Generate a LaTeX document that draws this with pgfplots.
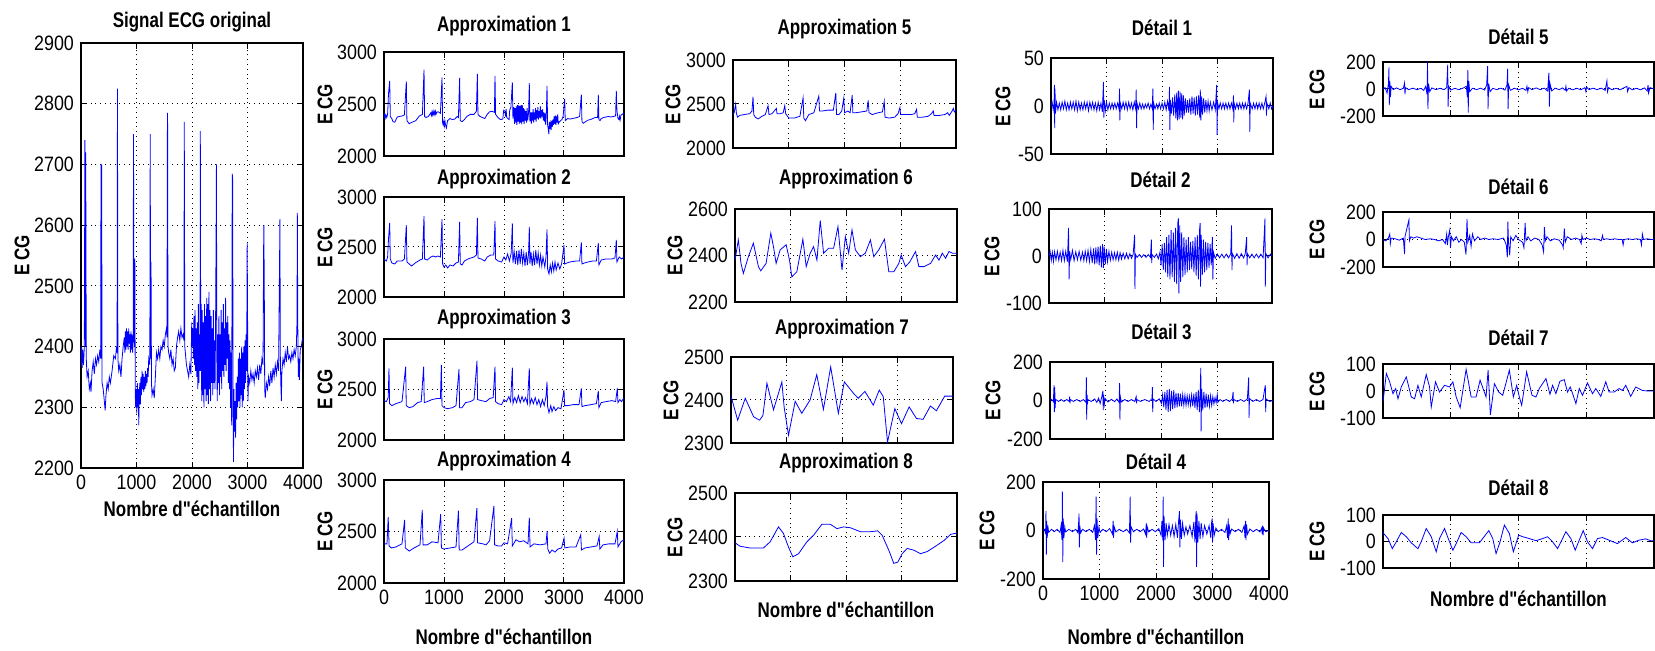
\documentclass[border=0pt]{standalone}
\usepackage{fontspec}
\setmainfont{Liberation Sans}[FakeStretch=0.80, Ligatures=TeXOff]
\newfontfamily\tickfont{Liberation Sans}[FakeStretch=0.86, Ligatures=TeXOff]
\usepackage{pgfplots}
\pgfplotsset{compat=1.18}
\newcommand\ttl{\bfseries\fontsize{10.6}{12}\selectfont}
\newcommand\nde{Nombre d"échantillon}
\pgfplotsset{
  /pgf/number format/1000 sep={},
  /pgf/number format/assume math mode=true,
  ecg/.style={scale only axis, anchor=south west,
    xmin=0, xmax=4000, xtick={0,1000,2000,3000,4000}, xticklabels={},
    scaled ticks=false, grid=major,
    grid style={black, dotted, line width=0.5pt},
    axis line style={line width=0.65pt},
    tick style={black, line width=0.5pt}, major tick length=3pt, tick align=inside,
    tick label style={font=\tickfont\fontsize{10.4}{11}\selectfont},
    title style={font=\ttl, at={(0.5,1)}, anchor=base},
    ylabel={E\,CG}, ylabel style={font=\ttl, anchor=center},
    xlabel style={font=\ttl, anchor=base},
    no markers,
    cycle list={{blue, mark=none, line width=0.75pt, line join=round}},
  },
  yl/.style={ylabel style={at={([xshift=-#1]axis description cs:0,0.5)}}},
  xl/.style={xlabel={\nde}, xlabel style={at={([yshift=-#1]axis description cs:0.5,0)}}},
  tt/.style 2 args={title={#1}, title style={yshift=#2-6pt}},
  xnum/.style={xticklabels={0,1000,2000,3000,4000}},
}
\begin{document}
\begin{tikzpicture}
\useasboundingbox (0,0) rectangle (827.5pt,325.5pt);
% ---------- Original signal
\begin{axis}[ecg, at={(40.5pt,91.5pt)}, width=111pt, height=212.5pt,
  ymin=2200, ymax=2900, ytick={2200,2300,...,2900}, xnum,
  tt={Signal ECG original}{8pt}, yl=29.5pt, xl=24.5pt]
\addplot coordinates {(0,2370)(10,2400)(20,2365)(30,2395)(45,2370)(60,2400)(70,2740)(80,2400)(85,2720)(95,2380)(110,2350)(130,2360)(150,2330)(170,2340)(180,2325)(200,2360)(220,2375)(240,2355)(260,2380)(280,2370)(300,2385)(320,2375)(340,2395)(355,2380)(360,2700)(368,2380)(372,2700)(380,2340)(400,2330)(420,2310)(435,2295)(450,2320)(470,2340)(490,2330)(510,2350)(530,2340)(560,2360)(590,2385)(620,2380)(640,2400)(650,2390)(657,2825)(665,2380)(680,2360)(700,2370)(720,2350)(740,2380)(760,2400)(780,2415)(790,2390)(800,2425)(810,2395)(820,2430)(830,2400)(840,2425)(850,2395)(860,2430)(870,2405)(880,2420)(890,2390)(900,2425)(910,2395)(920,2420)(930,2390)(940,2410)(946,2750)(955,2420)(965,2400)(970,2545)(978,2320)(985,2300)(995,2330)(1005,2290)(1015,2340)(1025,2300)(1035,2330)(1040,2270)(1050,2320)(1060,2340)(1070,2305)(1080,2350)(1090,2320)(1100,2360)(1110,2330)(1120,2355)(1130,2325)(1140,2350)(1150,2330)(1160,2360)(1170,2335)(1180,2355)(1190,2340)(1200,2365)(1210,2350)(1220,2380)(1240,2370)(1247,2750)(1255,2380)(1262,2540)(1270,2340)(1280,2320)(1300,2330)(1320,2315)(1340,2350)(1360,2390)(1380,2380)(1400,2395)(1420,2380)(1440,2400)(1460,2395)(1480,2410)(1500,2400)(1520,2420)(1540,2430)(1550,2415)(1555,2740)(1560,2785)(1568,2400)(1580,2390)(1600,2380)(1620,2395)(1640,2370)(1660,2380)(1680,2360)(1700,2365)(1720,2400)(1740,2415)(1760,2425)(1780,2410)(1800,2430)(1820,2415)(1840,2420)(1855,2410)(1861,2770)(1870,2400)(1880,2390)(1900,2370)(1920,2360)(1940,2350)(1960,2370)(1980,2355)(1995,2440)(2005,2400)(2015,2430)(2025,2380)(2035,2450)(2045,2370)(2055,2460)(2065,2360)(2075,2430)(2085,2350)(2095,2440)(2105,2330)(2115,2470)(2125,2340)(2135,2420)(2145,2360)(2150,2755)(2158,2360)(2165,2470)(2175,2310)(2185,2460)(2195,2320)(2205,2440)(2215,2300)(2225,2470)(2235,2330)(2245,2450)(2255,2310)(2265,2480)(2275,2320)(2285,2470)(2295,2305)(2305,2490)(2315,2330)(2325,2460)(2335,2310)(2345,2450)(2355,2340)(2365,2430)(2375,2320)(2385,2460)(2395,2340)(2405,2410)(2415,2330)(2425,2440)(2435,2600)(2440,2700)(2448,2380)(2455,2310)(2465,2420)(2475,2340)(2485,2450)(2495,2320)(2505,2420)(2515,2350)(2525,2460)(2535,2330)(2545,2440)(2555,2360)(2565,2470)(2575,2350)(2585,2430)(2595,2370)(2605,2480)(2615,2360)(2625,2440)(2635,2380)(2645,2450)(2655,2340)(2665,2420)(2675,2330)(2685,2410)(2695,2300)(2705,2390)(2715,2270)(2725,2685)(2733,2675)(2740,2300)(2748,2210)(2755,2330)(2765,2260)(2775,2310)(2785,2250)(2795,2340)(2805,2280)(2815,2350)(2825,2300)(2835,2380)(2845,2310)(2855,2390)(2865,2300)(2875,2380)(2885,2320)(2895,2400)(2905,2300)(2915,2390)(2925,2310)(2935,2400)(2945,2330)(2955,2410)(2965,2340)(2975,2420)(2985,2360)(2994,2570)(3000,2480)(3008,2310)(3020,2350)(3040,2340)(3060,2360)(3080,2345)(3100,2355)(3120,2340)(3140,2360)(3160,2350)(3180,2365)(3200,2345)(3220,2370)(3240,2355)(3260,2380)(3280,2370)(3290,2560)(3295,2600)(3303,2490)(3310,2330)(3320,2315)(3340,2340)(3360,2330)(3380,2350)(3400,2335)(3420,2360)(3440,2340)(3460,2365)(3480,2350)(3500,2370)(3520,2355)(3540,2375)(3560,2360)(3578,2545)(3584,2610)(3592,2380)(3600,2340)(3610,2310)(3620,2360)(3640,2380)(3660,2370)(3680,2390)(3700,2375)(3720,2400)(3740,2380)(3760,2385)(3780,2375)(3800,2390)(3820,2380)(3840,2395)(3860,2385)(3880,2400)(3892,2440)(3898,2620)(3906,2440)(3915,2350)(3925,2380)(3935,2345)(3950,2395)(3970,2400)(3985,2410)(4000,2415)};
\end{axis}
% ---------- Approximation 1
\begin{axis}[ecg, at={(192pt,247.5pt)}, width=120pt, height=52pt,
  ymin=2000, ymax=3000, ytick={2000,2500,3000}, tt={Approximation 1}{10pt}, yl=29.5pt]
\addplot coordinates {(0,2370)(10,2400)(20,2365)(30,2395)(45,2370)(60,2400)(75,2600)(95,2723)(105,2380)(130,2360)(150,2330)(180,2325)(220,2375)(260,2380)(300,2385)(340,2395)(372,2717)(382,2340)(420,2310)(450,2320)(490,2330)(530,2340)(590,2385)(640,2400)(667,2830)(677,2380)(700,2370)(740,2380)(780,2415)(790,2390)(800,2425)(810,2395)(820,2430)(830,2400)(840,2425)(850,2395)(860,2430)(870,2405)(880,2420)(900,2425)(920,2420)(940,2410)(967,2755)(977,2320)(985,2300)(995,2330)(1005,2290)(1015,2340)(1025,2300)(1040,2270)(1060,2340)(1080,2350)(1100,2360)(1140,2350)(1180,2355)(1220,2380)(1240,2370)(1261,2750)(1271,2340)(1300,2330)(1340,2350)(1380,2380)(1440,2400)(1500,2400)(1540,2430)(1556,2790)(1566,2400)(1600,2380)(1640,2370)(1680,2360)(1720,2400)(1760,2425)(1800,2430)(1840,2420)(1850,2770)(1860,2400)(1900,2370)(1940,2350)(1980,2355)(1995,2440)(2015,2430)(2025,2380)(2035,2450)(2045,2370)(2065,2360)(2085,2350)(2095,2440)(2115,2470)(2139,2707)(2149,2360)(2165,2470)(2175,2310)(2185,2460)(2195,2320)(2205,2480)(2215,2300)(2225,2490)(2235,2330)(2245,2490)(2255,2310)(2265,2480)(2275,2320)(2285,2490)(2295,2305)(2305,2490)(2315,2330)(2325,2460)(2335,2310)(2345,2450)(2355,2340)(2365,2430)(2375,2320)(2385,2460)(2395,2340)(2410,2420)(2422,2700)(2432,2330)(2445,2420)(2455,2310)(2465,2420)(2475,2340)(2485,2450)(2495,2320)(2505,2420)(2515,2350)(2525,2460)(2535,2330)(2545,2440)(2555,2360)(2565,2470)(2575,2350)(2585,2430)(2595,2370)(2605,2480)(2615,2360)(2625,2440)(2635,2380)(2645,2450)(2655,2340)(2665,2420)(2675,2330)(2685,2410)(2695,2300)(2705,2390)(2717,2675)(2727,2300)(2740,2250)(2748,2210)(2755,2330)(2765,2260)(2775,2310)(2785,2250)(2795,2340)(2805,2280)(2815,2350)(2825,2300)(2835,2380)(2845,2310)(2855,2390)(2865,2300)(2875,2380)(2885,2320)(2895,2400)(2905,2310)(2925,2330)(2945,2340)(2965,2350)(2985,2380)(3011,2550)(3021,2340)(3060,2360)(3100,2355)(3140,2360)(3180,2365)(3220,2370)(3260,2380)(3289,2590)(3299,2330)(3320,2315)(3360,2330)(3400,2345)(3440,2350)(3480,2360)(3520,2370)(3560,2370)(3572,2590)(3582,2350)(3600,2340)(3620,2360)(3660,2370)(3700,2375)(3740,2380)(3780,2375)(3820,2380)(3860,2385)(3872,2627)(3882,2440)(3900,2360)(3915,2350)(3925,2380)(3935,2345)(3950,2395)(3970,2400)(4000,2415)};
\end{axis}
% ---------- Approximation 2
\begin{axis}[ecg, at={(192pt,177pt)}, width=120pt, height=50pt,
  ymin=2000, ymax=3000, ytick={2000,2500,3000}, tt={Approximation 2}{6pt}, yl=29.5pt]
\addplot coordinates {(0,2380)(40,2360)(60,2400)(75,2580)(95,2742)(105,2380)(130,2340)(180,2330)(220,2360)(300,2360)(340,2380)(372,2718)(382,2350)(420,2330)(460,2310)(520,2340)(600,2370)(640,2380)(667,2811)(677,2380)(720,2370)(780,2400)(820,2410)(860,2400)(900,2410)(940,2400)(967,2778)(977,2330)(1000,2300)(1030,2320)(1060,2290)(1100,2320)(1150,2310)(1200,2340)(1240,2350)(1261,2752)(1271,2330)(1300,2320)(1340,2360)(1400,2380)(1450,2390)(1500,2400)(1540,2420)(1556,2790)(1566,2390)(1620,2380)(1680,2360)(1720,2400)(1780,2420)(1830,2420)(1850,2758)(1860,2380)(1900,2360)(1960,2350)(2000,2400)(2030,2370)(2060,2430)(2090,2360)(2120,2440)(2139,2735)(2149,2340)(2170,2450)(2190,2330)(2210,2460)(2230,2320)(2250,2470)(2270,2330)(2290,2480)(2310,2340)(2330,2440)(2350,2310)(2370,2450)(2390,2320)(2410,2440)(2422,2700)(2432,2330)(2450,2450)(2470,2310)(2490,2430)(2510,2320)(2530,2470)(2550,2330)(2570,2440)(2590,2320)(2610,2420)(2630,2310)(2650,2400)(2680,2300)(2700,2400)(2717,2675)(2727,2280)(2750,2230)(2770,2320)(2790,2250)(2810,2340)(2830,2260)(2850,2350)(2870,2270)(2900,2340)(2930,2280)(2960,2330)(3000,2520)(3010,2330)(3050,2340)(3100,2350)(3200,2360)(3260,2360)(3289,2545)(3299,2330)(3340,2340)(3400,2350)(3480,2360)(3540,2360)(3572,2540)(3582,2320)(3620,2370)(3700,2380)(3800,2380)(3850,2390)(3872,2570)(3882,2350)(3920,2400)(3960,2380)(4000,2400)};
\end{axis}
% ---------- Approximation 3
\begin{axis}[ecg, at={(192pt,105.5pt)}, width=120pt, height=50.5pt,
  ymin=2000, ymax=3000, ytick={2000,2500,3000}, tt={Approximation 3}{7pt}, yl=29.5pt]
\addplot coordinates {(0,2390)(40,2380)(70,2420)(83,2710)(93,2360)(130,2340)(200,2360)(300,2380)(361,2726)(371,2340)(420,2320)(480,2330)(560,2370)(620,2380)(661,2726)(671,2370)(720,2380)(800,2400)(880,2410)(940,2410)(956,2743)(966,2340)(1000,2320)(1060,2310)(1140,2320)(1200,2340)(1250,2703)(1260,2320)(1300,2320)(1360,2370)(1440,2380)(1500,2400)(1550,2785)(1560,2400)(1620,2390)(1700,2380)(1760,2410)(1820,2420)(1850,2726)(1860,2380)(1900,2360)(1960,2350)(2000,2400)(2040,2380)(2080,2430)(2110,2380)(2139,2716)(2149,2360)(2180,2420)(2210,2370)(2240,2440)(2270,2370)(2300,2430)(2330,2380)(2360,2420)(2390,2360)(2422,2710)(2432,2350)(2460,2410)(2490,2360)(2520,2420)(2550,2350)(2580,2400)(2610,2330)(2640,2400)(2670,2340)(2700,2430)(2717,2578)(2727,2330)(2750,2270)(2780,2340)(2800,2280)(2830,2330)(2860,2290)(2900,2320)(2950,2310)(3000,2495)(3010,2340)(3060,2340)(3150,2350)(3250,2350)(3289,2511)(3299,2330)(3350,2340)(3450,2350)(3540,2360)(3572,2485)(3582,2320)(3620,2370)(3700,2380)(3800,2390)(3860,2380)(3889,2511)(3899,2370)(3930,2400)(3960,2380)(4000,2420)};
\end{axis}
% ---------- Approximation 4
\begin{axis}[ecg, at={(192pt,34pt)}, width=120pt, height=51.5pt,
  ymin=2000, ymax=3000, ytick={2000,2500,3000}, tt={Approximation 4}{6.5pt}, yl=29.5pt, xnum, xl=31pt]
\addplot coordinates {(0,2380)(50,2380)(70,2640)(85,2360)(120,2340)(200,2350)(300,2380)(343,2613)(355,2340)(420,2310)(500,2340)(600,2370)(638,2710)(650,2370)(720,2370)(800,2400)(900,2390)(945,2671)(957,2340)(1000,2330)(1100,2340)(1200,2350)(1241,2703)(1253,2320)(1300,2320)(1400,2360)(1500,2400)(1548,2726)(1560,2390)(1650,2380)(1700,2370)(1760,2410)(1832,2748)(1844,2370)(1900,2360)(1960,2360)(2000,2390)(2060,2380)(2127,2629)(2139,2360)(2200,2420)(2260,2400)(2330,2410)(2400,2380)(2422,2635)(2434,2350)(2500,2380)(2600,2370)(2700,2380)(2718,2506)(2730,2330)(2760,2290)(2800,2320)(2850,2300)(2900,2330)(2960,2340)(3001,2435)(3013,2340)(3100,2350)(3200,2350)(3279,2468)(3291,2320)(3350,2340)(3450,2350)(3550,2360)(3586,2452)(3598,2330)(3650,2370)(3750,2380)(3850,2380)(3888,2500)(3900,2350)(3950,2400)(4000,2420)};
\end{axis}
% ---------- Approximation 5
\begin{axis}[ecg, at={(366.5pt,251.5pt)}, width=111.5pt, height=44pt,
  ymin=2000, ymax=3000, ytick={2000,2500,3000}, tt={Approximation 5}{12.5pt}, yl=30pt]
\addplot coordinates {(0,2380)(20,2400)(48,2498)(60,2400)(80,2350)(120,2370)(200,2380)(300,2390)(340,2420)(359,2582)(372,2380)(400,2350)(450,2330)(520,2360)(580,2380)(629,2480)(645,2380)(700,2390)(778,2450)(790,2390)(850,2390)(900,2400)(928,2480)(945,2390)(1000,2340)(1100,2340)(1200,2360)(1257,2570)(1270,2340)(1300,2310)(1360,2380)(1450,2400)(1539,2590)(1552,2420)(1600,2420)(1700,2430)(1800,2430)(1844,2627)(1857,2380)(1900,2380)(1950,2420)(1988,2570)(2000,2400)(2060,2420)(2100,2400)(2138,2600)(2150,2400)(2200,2400)(2300,2410)(2400,2420)(2425,2540)(2440,2400)(2500,2380)(2600,2400)(2680,2410)(2713,2530)(2726,2350)(2800,2340)(2900,2350)(2960,2390)(2994,2460)(3006,2380)(3100,2380)(3200,2380)(3260,2390)(3293,2440)(3306,2350)(3400,2350)(3500,2360)(3560,2390)(3593,2420)(3606,2370)(3700,2370)(3800,2380)(3850,2400)(3880,2370)(3930,2420)(3952,2450)(3970,2410)(4000,2430)};
\end{axis}
% ---------- Approximation 6
\begin{axis}[ecg, at={(367.5pt,174.5pt)}, width=111pt, height=46.5pt,
  ymin=2200, ymax=2600, ytick={2200,2400,2600}, tt={Approximation 6}{12pt}, yl=30pt]
\addplot coordinates {(0,2380)(60,2467)(108,2366)(151,2323)(241,2395)(331,2453)(422,2352)(464,2334)(560,2366)(645,2496)(693,2438)(741,2366)(813,2424)(922,2446)(982,2380)(1024,2308)(1114,2330)(1223,2470)(1283,2352)(1355,2410)(1416,2438)(1476,2380)(1536,2551)(1596,2410)(1687,2431)(1777,2431)(1855,2524)(1928,2337)(1988,2481)(2048,2410)(2108,2510)(2169,2424)(2259,2395)(2349,2410)(2440,2467)(2500,2395)(2590,2424)(2693,2470)(2771,2330)(2861,2330)(2952,2366)(2994,2402)(3072,2352)(3151,2373)(3253,2417)(3313,2352)(3404,2352)(3524,2366)(3614,2402)(3675,2380)(3735,2410)(3795,2388)(3855,2417)(3916,2410)(4000,2410)};
\end{axis}
% ---------- Approximation 7
\begin{axis}[ecg, at={(365.5pt,104pt)}, width=111pt, height=43pt,
  ymin=2300, ymax=2500, ytick={2300,2400,2500}, tt={Approximation 7}{11pt}, yl=30pt]
\addplot coordinates {(0,2409)(120,2353)(257,2404)(407,2361)(515,2353)(575,2364)(647,2439)(766,2377)(916,2442)(958,2383)(1036,2318)(1156,2397)(1275,2369)(1425,2400)(1545,2459)(1665,2378)(1796,2477)(1934,2369)(2042,2442)(2204,2416)(2293,2404)(2413,2420)(2563,2388)(2671,2423)(2743,2408)(2820,2302)(2952,2380)(3072,2345)(3210,2384)(3341,2357)(3461,2355)(3593,2386)(3701,2375)(3850,2409)(4000,2409)};
\end{axis}
% ---------- Approximation 8
\begin{axis}[ecg, at={(367.5pt,35pt)}, width=111pt, height=44pt,
  ymin=2300, ymax=2500, ytick={2300,2400,2500}, tt={Approximation 8}{12pt}, yl=30pt, xl=18.5pt]
\addplot coordinates {(0,2387)(90,2379)(271,2375)(512,2375)(633,2389)(783,2423)(873,2408)(964,2377)(1042,2355)(1145,2362)(1295,2389)(1416,2404)(1566,2429)(1717,2429)(1837,2419)(1958,2423)(2078,2421)(2259,2412)(2440,2412)(2572,2414)(2651,2404)(2771,2370)(2861,2340)(2934,2343)(3012,2362)(3102,2374)(3223,2370)(3343,2362)(3464,2367)(3614,2379)(3765,2392)(3886,2406)(4000,2409)};
\end{axis}
% ---------- Detail 1
\begin{axis}[ecg, at={(525.5pt,248.5pt)}, width=111pt, height=48pt,
  ymin=-50, ymax=50, ytick={-50,0,50}, tt={Détail 1}{11pt}, yl=24pt]
\addplot coordinates {(0,0)(20,4)(40,-4)(55,3)(62,22)(66,-23)(72,18)(80,-8)(100,4)(125,-4)(150,3)(175,-4)(200,4)(225,-3)(250,5)(275,-4)(300,3)(325,-4)(350,4)(375,-3)(400,4)(425,-4)(450,5)(475,-5)(500,4)(525,-4)(550,3)(575,-4)(600,4)(625,-3)(650,4)(675,-5)(700,4)(725,-3)(750,4)(775,-4)(800,3)(825,-5)(850,4)(875,-4)(900,3)(925,-6)(945,25)(952,-12)(960,6)(980,-5)(1000,4)(1025,-4)(1050,3)(1075,-3)(1100,3)(1125,-3)(1150,3)(1175,-3)(1200,3)(1225,-3)(1235,18)(1240,-15)(1250,3)(1275,-3)(1300,4)(1325,-3)(1350,4)(1375,-4)(1400,4)(1425,-3)(1450,3)(1475,-4)(1500,4)(1525,-3)(1535,17)(1542,-23)(1550,3)(1575,-3)(1600,3)(1625,-3)(1650,2)(1675,-3)(1700,2)(1725,-2)(1750,3)(1775,-3)(1800,2)(1825,-3)(1835,18)(1842,-25)(1850,3)(1875,-3)(1900,2)(1925,-3)(1950,3)(1975,-3)(2000,3)(2025,-3)(2050,4)(2075,-4)(2100,5)(2125,-5)(2135,20)(2142,-25)(2150,6)(2170,-8)(2190,9)(2210,-10)(2230,12)(2250,-13)(2265,14)(2280,-15)(2295,16)(2310,-14)(2325,15)(2340,-12)(2355,13)(2370,-14)(2385,11)(2400,-10)(2420,8)(2440,-7)(2460,6)(2480,-7)(2500,8)(2520,-9)(2540,10)(2560,-8)(2580,9)(2600,-10)(2620,10)(2640,-9)(2660,11)(2680,-12)(2690,17)(2700,-15)(2715,10)(2730,-9)(2750,8)(2770,-7)(2790,6)(2810,-5)(2830,5)(2850,-5)(2870,4)(2900,-4)(2930,4)(2960,-4)(2985,22)(2993,-30)(3000,4)(3025,-3)(3050,3)(3075,-3)(3100,3)(3125,-3)(3150,3)(3175,-3)(3200,3)(3225,-3)(3250,3)(3275,-3)(3288,11)(3293,-17)(3300,3)(3325,-3)(3350,3)(3375,-3)(3400,3)(3425,-3)(3450,3)(3475,-3)(3500,3)(3525,-3)(3550,3)(3575,17)(3582,-27)(3590,3)(3625,-3)(3650,3)(3675,-3)(3700,3)(3725,-3)(3750,3)(3775,-3)(3800,3)(3825,-3)(3850,3)(3875,10)(3882,-10)(3890,3)(3925,-3)(3950,3)(3975,-3)(4000,0)};
\end{axis}
% ---------- Detail 2
\begin{axis}[ecg, at={(524.5pt,174pt)}, width=111.5pt, height=47pt,
  ymin=-100, ymax=100, ytick={-100,0,100}, tt={Détail 2}{10.5pt}, yl=28.5pt]
\addplot coordinates {(0,0)(20,10)(40,-10)(60,8)(80,-12)(100,9)(125,-8)(150,10)(175,-9)(200,8)(225,-10)(250,12)(275,-10)(300,10)(330,-12)(350,60)(360,-50)(370,10)(390,-8)(420,12)(450,-10)(480,9)(510,-8)(540,10)(570,-9)(600,8)(625,-10)(650,10)(675,-10)(700,12)(725,-12)(750,14)(775,-15)(800,16)(820,-18)(840,18)(860,-16)(880,20)(900,-20)(920,22)(940,-24)(960,25)(975,-25)(990,20)(1010,-18)(1030,15)(1050,-12)(1075,10)(1100,-9)(1125,8)(1150,-8)(1175,7)(1200,-8)(1225,8)(1250,-9)(1275,7)(1300,-7)(1330,6)(1360,-6)(1390,6)(1420,-6)(1450,5)(1480,-5)(1510,4)(1535,45)(1541,-70)(1550,4)(1580,-3)(1620,3)(1660,-3)(1700,3)(1740,-3)(1780,3)(1820,-3)(1836,35)(1842,-15)(1850,3)(1890,-3)(1930,4)(1960,-6)(1990,8)(2010,-20)(2030,25)(2050,-30)(2070,28)(2090,-35)(2110,40)(2130,-45)(2150,45)(2170,-50)(2190,55)(2210,-45)(2230,50)(2250,-55)(2270,60)(2290,-60)(2310,70)(2321,80)(2330,-80)(2345,65)(2360,-55)(2380,50)(2400,-45)(2420,40)(2440,-40)(2460,35)(2480,-35)(2500,40)(2520,-30)(2540,30)(2560,-28)(2580,32)(2600,-35)(2620,40)(2640,-42)(2660,45)(2680,-50)(2700,55)(2711,70)(2718,-65)(2730,45)(2750,-40)(2770,35)(2790,-35)(2810,30)(2830,-30)(2850,28)(2870,-25)(2890,25)(2910,-20)(2930,40)(2939,-50)(2950,8)(2980,-5)(3020,4)(3060,-4)(3100,4)(3140,-4)(3180,4)(3220,-4)(3260,5)(3274,65)(3282,-30)(3290,5)(3330,-5)(3370,5)(3410,-5)(3450,5)(3490,-4)(3520,5)(3545,40)(3552,-20)(3560,5)(3600,-4)(3640,4)(3680,-4)(3720,4)(3760,-4)(3800,4)(3840,-4)(3874,80)(3880,-65)(3890,5)(3930,-4)(3970,4)(4000,0)};
\end{axis}
% ---------- Detail 3
\begin{axis}[ecg, at={(525pt,106pt)}, width=111.5pt, height=38.5pt,
  ymin=-200, ymax=200, ytick={-200,0,200}, tt={Détail 3}{11pt}, yl=28.5pt]
\addplot coordinates {(0,0)(30,6)(60,-6)(72,80)(78,-60)(85,70)(92,-40)(100,6)(150,-5)(200,5)(250,-5)(300,5)(345,-5)(352,20)(358,-15)(365,5)(420,-5)(480,5)(540,-5)(600,5)(645,-10)(652,120)(658,-100)(665,30)(672,-20)(680,5)(740,-5)(800,8)(840,-10)(870,12)(900,-15)(930,20)(948,50)(955,-50)(962,30)(975,-20)(990,10)(1040,-8)(1100,6)(1160,-6)(1200,8)(1240,-10)(1248,90)(1254,-100)(1262,20)(1280,-8)(1340,5)(1400,-5)(1460,5)(1520,-5)(1545,20)(1552,-15)(1560,5)(1620,-5)(1700,5)(1780,-5)(1830,10)(1836,70)(1842,-60)(1850,8)(1900,-5)(1960,8)(2000,-15)(2020,30)(2040,-35)(2060,45)(2080,-50)(2100,55)(2120,-60)(2140,60)(2160,-55)(2180,50)(2200,-45)(2220,55)(2240,-40)(2260,40)(2280,-35)(2300,40)(2320,-30)(2340,35)(2360,-30)(2380,30)(2400,-25)(2420,28)(2440,-25)(2460,25)(2480,-22)(2500,22)(2520,-25)(2540,28)(2560,-30)(2580,35)(2600,-40)(2620,45)(2640,-50)(2660,55)(2680,-60)(2695,60)(2705,170)(2710,-160)(2720,60)(2740,-50)(2760,45)(2780,-40)(2800,35)(2820,-35)(2840,30)(2860,-30)(2880,25)(2900,-25)(2920,20)(2940,-18)(2960,15)(2980,-12)(3000,30)(3010,-10)(3050,5)(3100,-5)(3160,5)(3220,-5)(3270,8)(3284,45)(3290,-15)(3300,5)(3360,-5)(3420,5)(3480,-5)(3540,8)(3564,120)(3570,-90)(3578,10)(3640,-5)(3700,5)(3760,-5)(3820,5)(3862,80)(3869,-60)(3876,8)(3940,-5)(4000,0)};
\end{axis}
% ---------- Detail 4
\begin{axis}[ecg, at={(521.5pt,36pt)}, width=113pt, height=48.5pt,
  ymin=-200, ymax=200, ytick={-200,0,200}, tt={Détail 4}{6pt}, yl=28pt, xnum, xl=33pt]
\addplot coordinates {(0,0)(30,5)(45,-15)(52,80)(59,-100)(66,40)(75,-30)(85,20)(100,-8)(150,5)(200,-5)(250,5)(300,-8)(320,20)(336,-40)(343,160)(350,-130)(358,50)(370,-30)(385,15)(400,-6)(460,5)(520,-5)(580,5)(620,-10)(630,30)(638,70)(644,-70)(652,20)(665,-10)(700,5)(760,-5)(820,5)(880,-8)(910,20)(930,-40)(940,140)(948,-100)(956,50)(970,-30)(990,15)(1010,-8)(1060,5)(1120,-5)(1180,8)(1230,-15)(1241,40)(1248,-30)(1260,15)(1290,-6)(1350,5)(1420,-5)(1480,5)(1530,-10)(1543,140)(1550,-50)(1560,15)(1600,-5)(1660,5)(1720,-5)(1780,6)(1815,-15)(1828,30)(1835,-30)(1845,15)(1870,-6)(1930,5)(1990,-5)(2050,8)(2090,-20)(2105,40)(2120,-40)(2127,140)(2133,-150)(2142,60)(2160,-40)(2180,30)(2200,-20)(2230,25)(2260,-20)(2290,20)(2320,-25)(2350,25)(2380,-30)(2400,40)(2416,80)(2423,-70)(2432,45)(2450,-35)(2470,30)(2500,-20)(2530,15)(2560,-15)(2600,20)(2640,-25)(2670,35)(2690,-50)(2705,60)(2712,80)(2718,-150)(2726,70)(2740,-50)(2760,40)(2780,-35)(2800,30)(2830,-25)(2860,20)(2900,-15)(2940,20)(2970,-30)(2985,35)(2995,50)(3001,-50)(3010,30)(3030,-20)(3060,10)(3100,-5)(3160,5)(3220,-8)(3250,20)(3265,-30)(3279,50)(3285,-40)(3295,25)(3310,-15)(3340,6)(3400,-5)(3460,5)(3520,-8)(3560,20)(3575,-30)(3586,40)(3592,-40)(3602,25)(3620,-15)(3660,6)(3720,-5)(3780,5)(3840,-6)(3870,10)(3880,-15)(3888,20)(3895,-20)(3905,10)(3940,-5)(4000,0)};
\end{axis}
% ---------- Detail 5
\begin{axis}[ecg, at={(691.5pt,267.5pt)}, width=135.5pt, height=27pt,
  ymin=-200, ymax=200, ytick={-200,0,200}, tt={Détail 5}{8.5pt}, yl=33pt]
\addplot coordinates {(0,0)(30,10)(60,-30)(80,40)(88,160)(93,-120)(100,60)(110,-60)(120,20)(150,-5)(200,8)(250,-5)(300,5)(318,45)(324,-40)(332,10)(380,-5)(440,6)(500,-5)(560,5)(600,-10)(630,20)(650,-40)(657,200)(663,-150)(672,40)(690,-20)(720,8)(780,-5)(840,5)(900,-5)(940,10)(955,180)(961,-130)(970,20)(1000,-8)(1060,5)(1120,-5)(1180,6)(1230,20)(1245,-60)(1252,140)(1258,-175)(1266,60)(1280,-20)(1320,5)(1380,-5)(1440,6)(1500,-8)(1530,30)(1544,170)(1550,-150)(1560,40)(1580,-20)(1620,5)(1680,-5)(1740,6)(1800,-8)(1830,30)(1840,150)(1846,-150)(1855,30)(1880,-10)(1940,5)(2000,-6)(2060,5)(2110,-10)(2125,20)(2137,-20)(2150,10)(2200,-5)(2260,8)(2320,-5)(2380,6)(2430,-15)(2448,120)(2456,-130)(2465,40)(2490,-15)(2540,6)(2600,-5)(2650,8)(2690,-10)(2700,20)(2710,-15)(2740,5)(2800,-6)(2860,5)(2920,-6)(2980,10)(2995,-20)(3005,15)(3040,-5)(3100,6)(3160,-5)(3220,6)(3280,-10)(3305,60)(3314,-20)(3330,10)(3380,-6)(3440,5)(3500,-6)(3560,10)(3600,20)(3610,-20)(3630,10)(3680,-6)(3740,5)(3800,-6)(3860,8)(3900,-15)(3912,30)(3920,-30)(3940,10)(4000,0)};
\end{axis}
% ---------- Detail 6
\begin{axis}[ecg, at={(691.5pt,192pt)}, width=135.5pt, height=27.5pt,
  ymin=-200, ymax=200, ytick={-200,0,200}, tt={Détail 6}{8.5pt}, yl=33pt]
\addplot coordinates {(0,0)(40,-10)(80,10)(100,40)(108,-30)(120,10)(180,5)(240,-5)(300,10)(318,-107)(324,20)(382,142)(390,-10)(410,20)(450,10)(500,20)(560,10)(620,0)(700,5)(760,0)(820,-10)(880,0)(920,-30)(940,40)(950,-40)(965,20)(985,70)(995,-60)(1010,20)(1040,-10)(1080,20)(1120,-20)(1160,0)(1200,-20)(1225,-110)(1240,150)(1252,-20)(1280,30)(1300,-50)(1320,40)(1350,-10)(1400,20)(1440,0)(1500,10)(1560,0)(1620,5)(1700,0)(1780,10)(1820,-40)(1835,-130)(1843,130)(1852,-20)(1870,-115)(1885,20)(1920,-10)(1960,30)(2000,0)(2060,-20)(2080,-60)(2098,120)(2110,-10)(2140,20)(2180,-10)(2240,10)(2300,0)(2350,-40)(2370,-90)(2382,90)(2395,-10)(2420,20)(2470,-10)(2530,5)(2600,-5)(2650,-40)(2660,-60)(2676,80)(2690,-20)(2720,20)(2780,0)(2840,10)(2900,0)(2925,-30)(2936,30)(2950,0)(3000,10)(3060,0)(3120,5)(3180,0)(3220,-10)(3240,30)(3252,0)(3300,5)(3360,0)(3420,5)(3480,0)(3530,0)(3544,-40)(3558,0)(3620,5)(3680,0)(3740,5)(3800,0)(3815,-40)(3828,40)(3845,0)(3900,5)(3960,0)(4000,0)};
\end{axis}
% ---------- Detail 7
\begin{axis}[ecg, at={(691.5pt,116.5pt)}, width=135.5pt, height=27pt,
  ymin=-100, ymax=100, ytick={-100,0,100}, tt={Détail 7}{9pt}, yl=33pt]
\addplot coordinates {(0,-41)(49,65)(98,34)(147,-10)(187,9)(221,-29)(270,15)(344,52)(417,-22)(466,-29)(515,21)(564,-22)(638,61)(687,15)(712,-60)(775,34)(834,-4)(908,21)(982,15)(1031,34)(1080,-22)(1139,-62)(1178,2)(1227,80)(1301,-22)(1374,-22)(1433,40)(1521,-22)(1551,77)(1585,-88)(1644,27)(1708,-4)(1767,-16)(1865,77)(1924,-22)(1973,21)(2012,-22)(2047,-53)(2120,71)(2199,-16)(2258,-22)(2307,9)(2405,46)(2464,-12)(2503,21)(2552,-10)(2611,36)(2675,42)(2724,-4)(2763,15)(2807,-16)(2847,-47)(2896,9)(2945,-16)(3018,30)(3092,-10)(3141,9)(3215,-20)(3288,34)(3337,-4)(3411,-4)(3485,9)(3534,2)(3583,21)(3656,-20)(3730,15)(3828,2)(3902,0)(4000,0)};
\end{axis}
% ---------- Detail 8
\begin{axis}[ecg, at={(691.5pt,41.5pt)}, width=135.5pt, height=26.5pt,
  ymin=-100, ymax=100, ytick={-100,0,100}, tt={Détail 8}{9.5pt}, yl=33pt, xl=19.5pt]
\addplot coordinates {(0,33)(74,11)(137,-27)(196,-1)(270,34)(344,18)(417,-5)(515,-27)(564,-1)(638,49)(712,18)(785,-39)(834,11)(908,49)(972,5)(1031,-33)(1080,-8)(1153,34)(1227,18)(1301,-5)(1423,-5)(1561,41)(1620,11)(1669,-46)(1728,-1)(1791,62)(1865,30)(1924,-39)(2002,24)(2061,18)(2160,11)(2258,3)(2356,11)(2429,18)(2503,-1)(2577,-27)(2650,11)(2699,37)(2773,11)(2837,-33)(2896,5)(2955,41)(3018,-1)(3092,-27)(3166,11)(3239,15)(3337,5)(3460,-8)(3583,15)(3681,-5)(3779,5)(3877,10)(3951,3)(4000,3)};
\end{axis}
\end{tikzpicture}
\end{document}
